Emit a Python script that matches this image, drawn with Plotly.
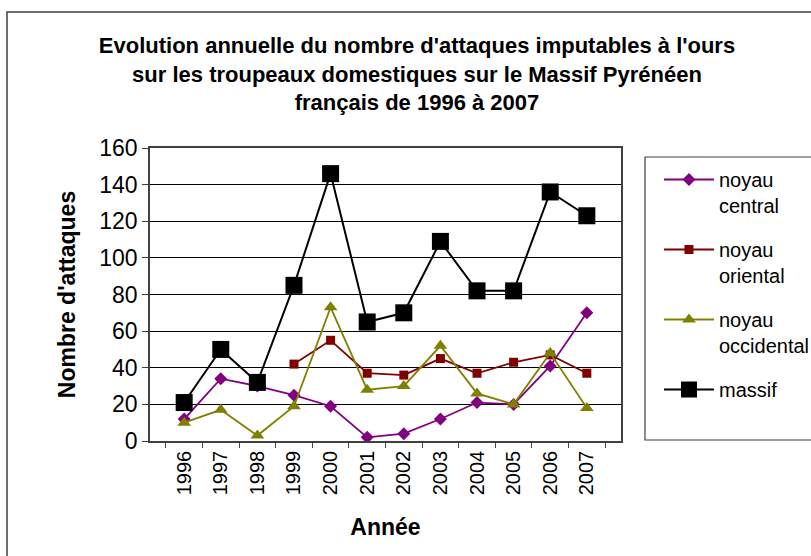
import plotly.graph_objects as go

years = ["1996", "1997", "1998", "1999", "2000", "2001", "2002", "2003", "2004", "2005", "2006", "2007"]
central = [12, 34, 30, 25, 19, 2, 4, 12, 21, 20, 41, 70]
oriental = [None, None, None, 42, 55, 37, 36, 45, 37, 43, 47, 37]
occidental = [10, 17, 3, 19, 73, 28, 30, 52, 26, 20, 48, 18]
massif = [21, 50, 32, 85, 146, 65, 70, 109, 82, 82, 136, 123]

names = ["noyau<br>central", "noyau<br>oriental", "noyau<br>occidental", "massif"]
colors = ["#800080", "#800000", "#808000", "#000000"]
symbols = ["diamond", "square", "triangle-up", "square"]
sizes = [10, 9, 12, 17]
series = [central, oriental, occidental, massif]

FONT = "Liberation Sans, Arial, sans-serif"

fig = go.Figure()
for i, (vals, nm, c, s, sz) in enumerate(zip(series, names, colors, symbols, sizes)):
    fig.add_trace(go.Scatter(
        x=years, y=vals, name=nm, mode="lines+markers",
        line=dict(color=c, width=1.8 if i < 3 else 2),
        marker=dict(symbol=s, size=sz, color=c),
        legendgroup=f"g{i}", connectgaps=False,
    ))

L, R, T, B = 150, 190, 148, 115
pw, ph = 811 - L - R, 556 - T - B

def px(x):
    return (x - L) / pw

def py(y):
    return (556 - B - y) / ph

fig.update_layout(
    width=811, height=556,
    margin=dict(l=L, r=R, t=T, b=B, autoexpand=False),
    paper_bgcolor="white", plot_bgcolor="white",
    font=dict(family=FONT, color="black"),
    title=dict(
        text="<b>Evolution annuelle du nombre d'attaques imputables à l'ours<br>"
             "sur les troupeaux domestiques sur le Massif Pyrénéen<br>"
             "français de 1996 à 2007</b>",
        x=417 / 811, xanchor="center", y=1 - 53 / 556, yanchor="top",
        font=dict(size=22, family=FONT),
    ),
    showlegend=True,
    legend=dict(
        x=px(659), xanchor="left", y=py(160), yanchor="top",
        font=dict(size=20, family=FONT), valign="top",
        traceorder="grouped", tracegroupgap=15, itemwidth=50,
        bgcolor="rgba(0,0,0,0)", borderwidth=0,
    ),
    xaxis=dict(
        type="category", tickangle=-90, tickson="boundaries",
        ticks="outside", ticklen=5, tickcolor="#404040",
        showline=True, linecolor="#404040", linewidth=1.5, mirror=True,
        showgrid=False, tickfont=dict(size=20, family=FONT),
        title=dict(text="<b>Année</b>", font=dict(size=23, family=FONT), standoff=25),
    ),
    yaxis=dict(
        range=[0, 160], dtick=20, tick0=0,
        ticks="outside", ticklen=6, tickcolor="#404040",
        showline=True, linecolor="#404040", linewidth=1.5, mirror=True,
        showgrid=True, gridcolor="black", gridwidth=1,
        zeroline=False, tickfont=dict(size=23, family=FONT),
        title=dict(text="<b>Nombre d'attaques</b>", font=dict(size=23, family=FONT), standoff=17),
    ),
    shapes=[
        dict(type="rect", xref="paper", yref="paper",
             x0=px(7), x1=px(830), y0=py(580), y1=py(12),
             line=dict(color="#404040", width=1.5), layer="below"),
        dict(type="rect", xref="paper", yref="paper",
             x0=px(645), x1=px(830), y0=py(440), y1=py(157),
             line=dict(color="#404040", width=1.2), layer="below"),
    ],
)

fig.write_html("out.html", config={"displayModeBar": False},
               post_script="document.body.style.margin='0';document.body.style.overflow='hidden';")
